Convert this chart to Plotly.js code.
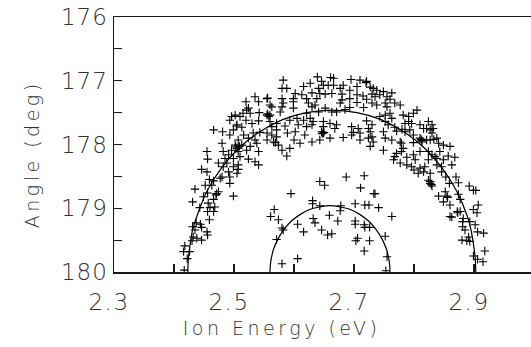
<!DOCTYPE html>
<html>
<head>
<meta charset="utf-8">
<script src="https://cdn.plot.ly/plotly-3.0.1.min.js"></script>
<style>
html,body{margin:0;padding:0;background:#fff;}
#chart{width:531px;height:347px;}
#chart .annotation-text{letter-spacing:3.5px;}
#chart .xtick text{letter-spacing:1.5px;}
#chart .ytick text{letter-spacing:1px;}
</style>
</head>
<body>
<div id="chart"></div>
<script>
// Measured ion energy (eV) of each detected event
const ionEnergy = [
  2.535,2.556,2.520,2.541,2.560,2.524,2.515,2.527,2.542,2.555,
  2.502,2.510,2.520,2.541,2.493,2.560,2.505,2.530,2.513,2.499,
  2.466,2.481,2.532,2.543,2.555,2.493,2.516,2.524,2.507,2.535,
  2.555,2.566,2.480,2.502,2.513,2.538,2.527,2.505,2.496,2.455,
  2.482,2.507,2.521,2.541,2.491,2.510,2.499,2.456,2.485,2.524,
  2.535,2.474,2.488,2.507,2.541,2.499,2.482,2.507,2.446,2.455,
  2.491,2.505,2.496,2.504,2.521,2.555,2.503,2.509,2.556,2.558,
  // top centre band
  2.639,2.661,2.666,2.695,2.582,2.627,2.646,2.649,2.657,2.666,
  2.682,2.720,2.710,2.588,2.580,2.616,2.641,2.705,2.727,2.677,
  2.693,2.602,2.613,2.630,2.643,2.652,2.663,2.680,2.705,2.715,
  2.730,2.580,2.599,2.621,2.638,2.680,2.693,2.721,2.563,2.582,
  2.599,2.624,2.635,2.677,2.705,2.730,2.580,2.599,2.630,2.652,
  2.693,2.716,2.621,2.641,2.663,2.671,2.685,2.577,2.560,2.593,
  2.605,2.616,2.627,2.632,2.649,2.660,2.671,2.721,2.730,2.571,
  2.563,2.585,2.607,2.621,2.630,2.649,2.668,2.696,2.707,2.724,
  2.571,2.602,2.646,2.699,2.710,2.727,2.589,2.618,2.660,2.682,
  2.696,2.724,2.571,2.563,2.600,2.610,2.630,2.643,2.574,2.580,
  2.593,2.727,2.588,2.710,2.649,2.721,2.821,2.647,2.650,2.569,
  // right band
  2.732,2.738,2.749,2.763,2.743,2.755,2.735,2.760,2.768,2.777,
  2.752,2.738,2.755,2.805,2.799,2.782,2.791,2.760,2.752,2.743,
  2.763,2.752,2.791,2.785,2.796,2.810,2.824,2.830,2.757,2.768,
  2.780,2.793,2.816,2.827,2.832,2.749,2.771,2.785,2.799,2.830,
  2.730,2.752,2.810,2.821,2.838,2.732,2.763,2.777,2.779,2.799,
  2.813,2.827,2.849,2.860,2.841,2.749,2.782,2.810,2.824,2.843,
  2.771,2.779,2.768,2.788,2.799,2.830,2.835,2.857,2.868,2.766,
  2.777,2.802,2.824,2.838,2.849,2.788,2.796,2.810,2.818,2.838,
  2.846,2.863,2.816,2.827,2.846,2.807,2.812,2.813,2.833,2.800,
  // left lower band
  2.480,2.493,2.459,2.466,2.477,2.452,2.463,2.493,2.435,2.456,
  2.471,2.474,2.499,2.449,2.466,2.431,2.457,2.468,2.443,2.460,
  2.456,2.466,2.459,2.437,2.444,2.431,2.446,2.435,2.455,2.456,
  2.432,2.438,2.446,2.430,2.418,2.416,2.426,2.422,2.417,2.470,
  // inner region
  2.643,2.651,2.687,2.717,2.711,2.733,2.595,2.631,2.631,2.643,
  2.678,2.677,2.702,2.718,2.725,2.567,2.659,2.561,2.574,2.632,
  2.635,2.606,2.673,2.702,2.702,2.717,2.726,2.718,2.580,2.582,
  2.616,2.646,2.656,2.663,2.706,2.703,2.726,2.571,2.717,2.606,
  2.580,2.735,2.741,2.763,2.752,2.755,2.753,
  // right lower band
  2.824,2.827,2.830,2.853,2.870,2.859,2.874,2.892,2.899,2.903,
  2.852,2.855,2.841,2.874,2.877,2.849,2.860,2.907,2.899,2.905,
  2.872,2.877,2.860,2.863,2.882,2.893,2.881,2.902,2.881,2.885,
  2.906,2.916,2.891,2.880,2.888,2.893,2.918,2.899,2.906,2.915,
  2.827,2.829,2.856,2.873
];
// Measured scattering angle (deg) of each detected event
const angle = [
  177.25,177.27,177.33,177.33,177.38,177.43,177.51,177.51,177.50,177.54,
  177.54,177.56,177.62,177.63,177.62,177.64,177.69,177.67,177.73,177.77,
  177.77,177.80,177.82,177.81,177.82,177.85,177.85,177.90,177.93,177.93,
  177.93,177.96,177.98,178.01,178.01,177.98,178.03,178.06,178.09,178.11,
  178.11,178.11,178.09,178.11,178.16,178.19,178.22,178.23,178.22,178.23,
  178.27,178.29,178.29,178.32,178.32,178.35,178.35,178.39,178.39,178.43,
  178.43,178.45,177.56,177.71,177.46,177.28,178.04,178.03,177.52,177.56,
  // top centre band
  176.94,176.95,176.96,176.98,176.99,177.04,177.01,177.07,177.07,177.07,
  177.07,177.03,176.99,177.12,177.12,177.09,177.12,177.09,177.10,177.12,
  177.15,177.20,177.22,177.19,177.20,177.21,177.20,177.21,177.22,177.24,
  177.21,177.28,177.28,177.28,177.28,177.30,177.28,177.29,177.41,177.35,
  177.33,177.35,177.38,177.35,177.34,177.35,177.41,177.43,177.41,177.43,
  177.42,177.42,177.51,177.49,177.49,177.49,177.45,177.49,177.54,177.62,
  177.59,177.62,177.59,177.64,177.64,177.67,177.69,177.63,177.69,177.67,
  177.72,177.71,177.69,177.72,177.69,177.72,177.75,177.72,177.75,177.75,
  177.77,177.80,177.80,177.81,177.82,177.80,177.82,177.85,177.90,177.89,
  177.85,177.90,177.88,177.85,177.93,177.98,177.96,177.93,178.01,178.09,
  178.06,178.03,178.18,177.93,177.82,177.01,177.75,177.83,177.81,177.97,
  // right band
  177.12,177.15,177.17,177.19,177.22,177.25,177.25,177.29,177.35,177.38,
  177.35,177.38,177.41,177.46,177.51,177.54,177.56,177.51,177.54,177.56,
  177.59,177.64,177.64,177.67,177.67,177.69,177.64,177.69,177.69,177.73,
  177.76,177.77,177.75,177.77,177.75,177.80,177.79,177.80,177.85,177.82,
  177.88,177.90,177.90,177.93,177.90,177.96,177.93,177.96,177.98,177.97,
  177.94,177.93,178.01,178.03,177.98,178.09,178.06,178.11,178.11,178.11,
  178.14,178.11,178.19,178.20,178.16,178.16,178.19,178.18,178.20,178.24,
  178.29,178.24,178.24,178.22,178.24,178.32,178.35,178.37,178.35,178.32,
  178.35,178.32,178.43,178.45,178.43,178.45,177.92,177.96,177.92,178.40,
  // left lower band
  178.51,178.51,178.55,178.57,178.53,178.64,178.64,178.61,178.70,178.76,
  178.77,178.74,178.81,178.82,178.86,178.90,178.92,178.98,178.99,178.99,
  179.05,179.05,179.18,179.23,179.25,179.29,179.30,179.34,179.37,179.42,
  179.45,179.47,179.50,179.51,179.59,179.68,179.68,179.79,179.97,178.79,
  // inner region
  178.58,178.64,178.51,178.49,178.68,178.77,178.77,178.88,178.93,178.96,
  178.96,179.04,178.93,178.95,178.95,179.02,179.11,179.13,179.18,179.16,
  179.23,179.25,179.20,179.20,179.25,179.26,179.30,179.30,179.31,179.34,
  179.37,179.34,179.42,179.40,179.47,179.51,179.51,179.49,179.67,179.79,
  179.87,178.77,178.99,179.13,179.44,179.76,179.98,
  // right lower band
  178.56,178.61,178.65,178.51,178.51,178.61,178.60,178.65,178.72,178.72,
  178.74,178.81,178.81,178.78,178.86,178.90,178.95,178.95,179.02,179.07,
  179.05,179.05,179.13,179.14,179.16,179.21,179.21,179.26,179.29,179.34,
  179.37,179.39,179.45,179.50,179.51,179.52,179.67,179.75,179.80,179.84,
  178.58,178.63,178.83,179.07
];

// Outer model curve
const outerX = [2.423,2.424,2.427,2.431,2.438,2.455,2.479,2.509,2.543,2.581,2.621,2.663,
                2.705,2.745,2.783,2.817,2.847,2.871,2.889,2.895,2.899,2.902,2.903];
const outerY = [180.00,179.78,179.56,179.34,179.13,178.73,178.37,178.05,177.80,177.61,177.50,177.46,
                177.50,177.61,177.80,178.05,178.37,178.73,179.13,179.34,179.56,179.78,180.00];
// Inner model curve
const innerX = [2.560,2.5604,2.5615,2.5634,2.566,2.5734,2.5834,2.5957,2.610,2.6258,2.6426,2.660,
                2.6774,2.6942,2.710,2.7243,2.7366,2.7466,2.754,2.7566,2.7585,2.7596,2.760];
const innerY = [180.00,179.91,179.82,179.73,179.64,179.48,179.33,179.20,179.10,179.02,178.98,178.96,
                178.98,179.02,179.10,179.20,179.33,179.48,179.64,179.73,179.82,179.91,180.00];

const xTicks = [2.3, 2.5, 2.7, 2.9];
const xTickText = ['2.3', '2.5', '2.7', '2.9'];
const yTicks = [176, 177, 178, 179, 180];
const yTickText = ['176', '177', '178', '179', '180'];

const ink = '#1a1a1a';
const fontFam = '"DejaVu Sans", sans-serif';

const traces = [
  {x: ionEnergy, y: angle, type: 'scatter', mode: 'markers',
   marker: {symbol: 'cross-thin', size: 6, line: {width: 1.1, color: '#000'}, color: '#000'},
   hoverinfo: 'skip', showlegend: false},
  {x: outerX, y: outerY, type: 'scatter', mode: 'lines', line: {color: '#000', width: 1.2, shape: 'spline'},
   hoverinfo: 'skip', showlegend: false},
  {x: innerX, y: innerY, type: 'scatter', mode: 'lines', line: {color: '#000', width: 1.2, shape: 'spline'},
   hoverinfo: 'skip', showlegend: false}
];

const axisCommon = {
  showgrid: false, zeroline: false, showline: true, linecolor: ink, linewidth: 1.5,
  ticks: 'inside', ticklen: 8, tickwidth: 1.2, tickcolor: ink,
  tickfont: {family: fontFam, size: 23, color: '#333', weight: 200}
};

const layout = {
  width: 531, height: 347,
  margin: {l: 114, r: 0, t: 17, b: 75, pad: 0},
  paper_bgcolor: '#fff', plot_bgcolor: '#fff',
  showlegend: false,
  xaxis: Object.assign({}, axisCommon, {
    range: [2.3, 2.995], tickmode: 'array', tickvals: xTicks, ticktext: xTickText,
    mirror: true, ticklabelstandoff: 9, ticklabelshift: -5,
    minor: {dtick: 0.1, tick0: 2.3, ticks: 'inside', ticklen: 8, tickwidth: 1.2, tickcolor: ink, showgrid: false}
  }),
  yaxis: Object.assign({}, axisCommon, {
    range: [180, 176], tickmode: 'array', tickvals: yTicks, ticktext: yTickText,
    ticklabelstandoff: 0,
    minor: {dtick: 0.5, tick0: 176, ticks: 'inside', ticklen: 8, tickwidth: 1.2, tickcolor: ink, showgrid: false}
  }),
  annotations: [
    {text: 'Ion Energy (eV)', xref: 'paper', yref: 'paper', x: 0.4005, y: -0.2196,
     xanchor: 'center', yanchor: 'middle', showarrow: false,
     font: {family: fontFam, size: 19, color: '#333', weight: 200}},
    {text: 'Angle (deg)', xref: 'paper', yref: 'paper', x: -0.1966, y: 0.4588, textangle: -90,
     xanchor: 'center', yanchor: 'middle', showarrow: false,
     font: {family: fontFam, size: 19, color: '#333', weight: 200}}
  ]
};

Plotly.newPlot('chart', traces, layout, {staticPlot: true, displayModeBar: false});
</script>
</body>
</html>
